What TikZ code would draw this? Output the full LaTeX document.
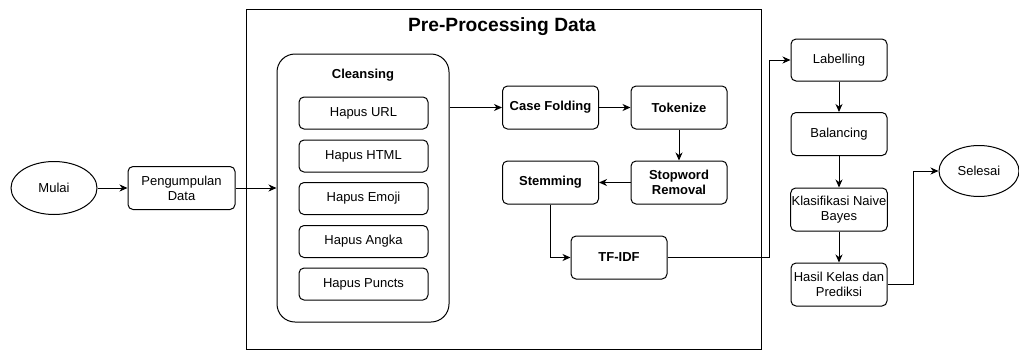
\documentclass[tikz,border=0pt]{standalone}
\usepackage{fontspec}
\setmainfont{Liberation Sans}
\usepackage{xcolor}
\usepackage{tikz}
\usetikzlibrary{arrows.meta,calc,positioning,shapes.geometric}
\definecolor{ink}{HTML}{000000}
\tikzset{
  x=1pt,y=-1pt,
  font=\fontsize{13}{15}\selectfont,
  flow/.style={-{Stealth[length=8pt,width=7pt,inset=2.5pt]},line width=1pt,draw=ink},
  box/.style={rounded corners=5pt,draw=ink,line width=1pt,fill=white,align=center,inner sep=1pt,minimum width=96pt,minimum height=43pt},
  boldbox/.style={box,font=\fontsize{13}{15.5}\selectfont\bfseries},
  sub/.style={box,minimum width=129pt,minimum height=32pt},
  oval/.style={ellipse,draw=ink,line width=1pt,fill=white,inner sep=0pt},
  title/.style={font=\fontsize{19.2}{21}\selectfont\bfseries,text=ink}
}
\begin{document}
\begin{tikzpicture}
\useasboundingbox (0,0) rectangle (1019,351);
% pre-processing frame
\draw[line width=1pt,draw=ink] (246,9) rectangle (761,349);
\node[title] (judul) at (502,27) {Pre-Processing Data};

\node[oval,minimum width=86pt,minimum height=53pt] (mulai) at (54,188) {Mulai};
\node[box,minimum width=107pt] (kumpul) at (181.5,188) {Pengumpulan\\Data};

\node[box,rounded corners=18pt,minimum width=172pt,minimum height=268pt] (cleansing) at (363,188) {};
\node[font=\fontsize{13}{15.5}\selectfont\bfseries] (judulclean) at (363,75) {Cleansing};
\node[sub] (url) at (363.5,113) {Hapus URL};
\node[sub] (html) at (363.5,156) {Hapus HTML};
\node[sub] (emoji) at (363.5,198.5) {Hapus Emoji};
\node[sub] (angka) at (363.5,241.5) {Hapus Angka};
\node[sub] (puncts) at (363.5,284) {Hapus Puncts};

\node[boldbox] (casefold) at (550.5,107.5) {Case Folding};
\node[boldbox] (tokenize) at (679,107.5) {Tokenize};
\node[boldbox] (stopword) at (679,182.5) {Stopword\\Removal};
\node[boldbox] (stemming) at (550.5,182.5) {Stemming};
\node[boldbox] (tfidf) at (619,257.5) {TF-IDF};

\node[box,minimum height=42pt] (labelling) at (839,60) {Labelling};
\node[box] (balancing) at (839,134) {Balancing};
\node[box] (klasifikasi) at (839,209.5) {Klasifikasi Naive\\Bayes};
\node[box] (hasil) at (839,284.5) {Hasil Kelas dan\\Prediksi};
\node[oval,minimum width=80pt,minimum height=51pt] (selesai) at (979,171) {Selesai};

\coordinate (belok1) at (769,257.5);
\coordinate (belok2) at (913,284.5);

\draw[flow] (mulai) -- (kumpul);
\draw[flow] (kumpul) -- (cleansing);
\draw[flow] (cleansing.east |- casefold.west) -- (casefold);
\draw[flow] (casefold) -- (tokenize);
\draw[flow] (tokenize) -- (stopword);
\draw[flow] (stopword) -- (stemming);
\draw[flow] (stemming.south) |- (tfidf.west);
\draw[flow] (tfidf) -- (belok1) |- (labelling);
\draw[flow] (labelling) -- (balancing);
\draw[flow] (balancing) -- (klasifikasi);
\draw[flow] (klasifikasi) -- (hasil);
\draw[flow] (hasil) -- (belok2) |- (selesai);
\end{tikzpicture}
\end{document}
